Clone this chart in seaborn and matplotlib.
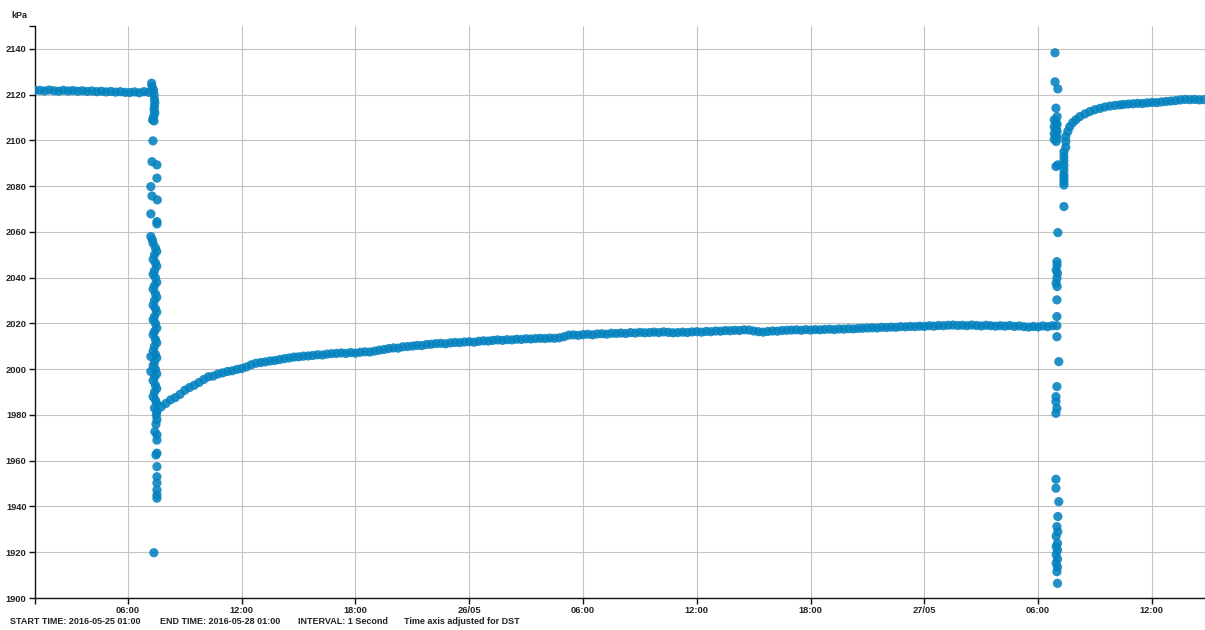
import numpy as np
import pandas as pd
import matplotlib
matplotlib.use("Agg")
import matplotlib.pyplot as plt
import matplotlib.dates as mdates
import seaborn as sns

# ---------------- data (hours since 2016-05-25 00:00, pressure in kPa) ----------------
# steady period before the first event (15-minute readings)
t_pre = np.arange(1.1, 7.2, 0.25)
p_pre = [2121.8, 2121.9, 2121.6, 2122.0, 2121.7, 2121.5, 2121.9, 2121.6, 2121.8, 2121.5,
         2121.7, 2121.4, 2121.6, 2121.3, 2121.5, 2121.2, 2121.4, 2121.1, 2121.3, 2121.0,
         2120.9, 2121.2, 2120.8, 2121.3, 2121.0]

# first transient (around 07:20 on 25/05)
t_ev1 = [7.25, 7.27, 7.35, 7.38, 7.40, 7.42, 7.40, 7.38, 7.42, 7.36, 7.30, 7.38,
         7.32, 7.27, 7.53, 7.53, 7.21, 7.27, 7.55, 7.21, 7.53, 7.53, 7.21, 7.29,
         7.33, 7.45, 7.52, 7.40, 7.33, 7.45, 7.52, 7.40, 7.33, 7.45, 7.52, 7.40,
         7.33, 7.45, 7.52, 7.40, 7.33, 7.45, 7.52, 7.40, 7.33, 7.45, 7.52, 7.40,
         7.33, 7.45, 7.52, 7.40, 7.33, 7.45, 7.52, 7.40, 7.33, 7.45, 7.52, 7.40,
         7.33, 7.45, 7.52, 7.40, 7.33, 7.45, 7.52, 7.40, 7.21, 7.21,
         7.53, 7.50, 7.53, 7.48, 7.42, 7.53, 7.53, 7.53, 7.48, 7.53, 7.53, 7.53,
         7.53, 7.53, 7.53, 7.37]
p_ev1 = [2125.0, 2123.5, 2122.0, 2120.0, 2118.0, 2116.5, 2115.0, 2113.5, 2112.0, 2110.5, 2109.0, 2108.5,
         2099.8, 2090.7, 2089.3, 2083.5, 2079.8, 2075.7, 2074.0, 2067.9, 2064.5, 2063.5, 2058.0, 2056.5,
         2055.0, 2053.0, 2051.5, 2050.0, 2048.0, 2046.5, 2045.0, 2043.0, 2041.5, 2040.0, 2038.0, 2036.5,
         2035.0, 2033.0, 2031.5, 2030.0, 2028.0, 2026.5, 2025.0, 2023.0, 2021.5, 2020.0, 2018.0, 2016.5,
         2015.0, 2013.0, 2011.5, 2010.0, 2008.0, 2006.5, 2005.0, 2003.0, 2001.5, 2000.0, 1998.0, 1996.5,
         1995.0, 1993.0, 1991.5, 1990.0, 1988.0, 1986.5, 1985.0, 1983.0, 2005.5, 1999.0,
         1981.5, 1980.0, 1978.0, 1976.0, 1972.7, 1971.3, 1969.0, 1963.3, 1962.5, 1957.4, 1953.0, 1950.3,
         1947.2, 1945.0, 1943.6, 1919.8]

# slow recovery after the first event (15-minute readings)
t_rec1 = np.arange(7.75, 54.8, 0.25)
p_rec1 = [1983.5,
          1985.0, 1986.6, 1987.6, 1989.0, 1990.8, 1992.0, 1993.0, 1994.2,
          1995.5, 1996.7, 1997.0, 1997.9, 1998.4, 1999.0, 1999.3, 1999.9,
          2000.3, 2001.0, 2001.9, 2002.6, 2002.9, 2003.2, 2003.6, 2003.8,
          2004.2, 2004.6, 2004.9, 2005.3, 2005.4, 2005.7, 2005.8, 2006.0,
          2006.3, 2006.2, 2006.6, 2006.8, 2006.9, 2007.1, 2006.9, 2007.3,
          2007.0, 2007.4, 2007.6, 2007.5, 2007.9, 2008.3, 2008.6, 2009.0,
          2009.3, 2009.2, 2009.8, 2009.9, 2010.1, 2010.4, 2010.3, 2010.8,
          2010.9, 2011.2, 2011.3, 2011.1, 2011.5, 2011.7, 2011.6, 2011.9,
          2012.0, 2011.8, 2012.2, 2012.4, 2012.3, 2012.6, 2012.8, 2012.6,
          2012.9, 2012.8, 2013.1, 2013.0, 2013.3, 2013.2, 2013.4, 2013.5,
          2013.4, 2013.6, 2013.5, 2013.7, 2014.2, 2014.9, 2015.0, 2014.8,
          2015.1, 2015.3, 2015.0, 2015.4, 2015.5, 2015.3, 2015.7, 2015.6,
          2015.8, 2015.6, 2016.0, 2015.8, 2016.1, 2015.9, 2016.0, 2016.2,
          2016.0, 2016.3, 2016.1, 2015.9, 2016.0, 2016.2, 2016.0, 2016.3,
          2016.4, 2016.2, 2016.5, 2016.4, 2016.7, 2016.6, 2016.9, 2016.8,
          2017.0, 2016.9, 2017.2, 2017.1, 2016.7, 2016.4, 2016.2, 2016.5,
          2016.7, 2016.6, 2016.9, 2017.0, 2017.1, 2017.2, 2017.0, 2017.3,
          2017.1, 2017.3, 2017.2, 2017.4, 2017.5, 2017.3, 2017.6, 2017.5,
          2017.7, 2017.6, 2017.8, 2017.9, 2018.0, 2018.1, 2018.0, 2018.3,
          2018.2, 2018.4, 2018.3, 2018.6, 2018.5, 2018.7, 2018.6, 2018.8,
          2018.7, 2019.0, 2018.8, 2019.1, 2019.0, 2019.2, 2019.3, 2019.1,
          2019.2, 2019.0, 2019.3, 2019.1, 2018.9, 2019.2, 2019.0, 2018.8,
          2019.0, 2018.8, 2019.1, 2018.7, 2018.9, 2018.6, 2018.4, 2018.7,
          2018.5, 2018.9, 2018.6, 2019.0]

# second transient (around 07:00 on 27/05)
t_ev2 = [54.89, 54.89, 55.04, 54.94, 55.00,
         54.85, 54.95, 55.00, 54.85, 54.95, 55.00, 54.85, 54.95, 55.00, 54.85, 54.95,
         54.94, 55.04, 55.36, 55.04,
         54.99, 55.00, 54.95, 55.02, 54.99, 54.95, 55.00,
         54.99, 54.99, 54.99, 54.99, 55.09, 54.99, 54.94, 54.94, 54.99, 54.94,
         54.94, 54.94, 55.09, 55.04,
         54.99, 55.04, 54.95, 55.02, 54.95, 55.02, 54.95, 55.02, 54.95, 55.02]
p_ev2 = [2138.3, 2125.6, 2122.5, 2114.1, 2110.4,
         2109.0, 2108.0, 2107.0, 2106.0, 2105.0, 2104.0, 2103.0, 2102.0, 2101.0, 2100.5, 2099.5,
         2088.6, 2089.3, 2071.1, 2059.7,
         2047.0, 2045.6, 2043.4, 2041.9, 2039.8, 2037.6, 2036.1,
         2030.3, 2023.0, 2019.0, 2014.2, 2003.3, 1992.4, 1988.0, 1985.8, 1982.9, 1980.7,
         1951.9, 1948.0, 1942.1, 1935.6,
         1931.2, 1929.0, 1927.0, 1923.9, 1922.5, 1921.0, 1919.0, 1917.0, 1915.2, 1913.5]
t_ev2_tail = [54.99, 55.02]
p_ev2_tail = [1911.5, 1906.4]

# fast recovery after the second event
t_rec2 = [55.36, 55.36, 55.36, 55.36, 55.36, 55.36, 55.36, 55.36, 55.36,
          55.46, 55.46, 55.46, 55.57, 55.67, 55.83, 55.99, 56.20, 56.47, 56.73,
          56.99, 57.26, 57.52, 57.78, 58.05, 58.31,
          58.50, 58.75, 59.00, 59.25, 59.50, 59.75, 60.00, 60.25, 60.50, 60.75,
          61.00, 61.25, 61.50, 61.75, 62.00, 62.25, 62.50, 62.75]
p_rec2 = [2080.5, 2082.0, 2083.5, 2085.0, 2087.0, 2089.0, 2091.0, 2093.0, 2095.0,
          2097.0, 2099.5, 2101.7, 2104.0, 2106.0, 2107.8, 2109.0, 2110.4, 2111.6, 2112.6,
          2113.4, 2114.0, 2114.6, 2115.0, 2115.3, 2115.5,
          2115.7, 2115.9, 2116.0, 2116.2, 2116.1, 2116.4, 2116.6, 2116.5, 2116.8, 2117.0,
          2117.2, 2117.4, 2117.7, 2117.9, 2117.8, 2117.9, 2117.7, 2117.8]

y_ticks = [1900, 1920, 1940, 1960, 1980, 2000, 2020, 2040, 2060, 2080, 2100, 2120, 2140]
footer_items = ["START TIME: 2016-05-25 01:00", "END TIME: 2016-05-28 01:00",
                "INTERVAL: 1 Second", "Time axis adjusted for DST"]
unit_label = "kPa"

# ---------------- build table ----------------
hours = np.concatenate([t_pre, t_ev1, t_rec1, t_ev2, t_ev2_tail, t_rec2])
vals = np.concatenate([p_pre, p_ev1, p_rec1, p_ev2, p_ev2_tail, p_rec2])
base = pd.Timestamp("2016-05-25 00:00")
df = pd.DataFrame({"time": base + pd.to_timedelta(hours, unit="h"), "kPa": vals})

# ---------------- plot ----------------
sns.set_style("white")
plt.rcParams["font.family"] = ["Liberation Sans", "DejaVu Sans"]
plt.rcParams["font.weight"] = "bold"

W, H = 1205, 630
fig = plt.figure(figsize=(W / 100, H / 100), dpi=100)
ax = fig.add_axes([35 / W, (H - 598) / H, (1205 - 35) / W, (598 - 26) / H])

sns.scatterplot(data=df, x="time", y="kPa", ax=ax, s=44, color="#0482bf",
                alpha=0.88, linewidth=0, edgecolor="none", legend=False, zorder=3)

x0 = base + pd.Timedelta(hours=1.1)
x1 = base + pd.Timedelta(hours=62.8)
ax.set_ylim(1900, 2150)
ax.set_xlim(x0, x1)
ax.set_yticks(y_ticks)
ax.set_yticks([2150], minor=True)
ax.set_xticks([mdates.date2num(x0)], minor=True)

ax.xaxis.set_major_locator(mdates.HourLocator(byhour=[0, 6, 12, 18]))

def fmt(x, pos=None):
    d = mdates.num2date(x)
    return d.strftime("%d/%m") if d.hour == 0 else d.strftime("%H:%M")

ax.xaxis.set_major_formatter(plt.FuncFormatter(fmt))
ax.set_xlabel("")
ax.set_ylabel("")

ax.grid(True, which="major", color="#c2c2c2", linewidth=0.8, zorder=0)
ax.grid(False, which="minor")
ax.set_axisbelow(True)
for s in ["top", "right"]:
    ax.spines[s].set_visible(False)
for s in ["left", "bottom"]:
    ax.spines[s].set_color("#111111")
    ax.spines[s].set_linewidth(1.0)

ax.tick_params(axis="both", which="both", direction="out", length=4.5, width=1.0,
               color="#111111", labelsize=6.7, labelcolor="#222222", pad=1.5,
               left=True, bottom=True)
ax.tick_params(axis="both", which="minor", labelleft=False, labelbottom=False)
for lab in ax.get_xticklabels() + ax.get_yticklabels():
    lab.set_fontweight("bold")

fig.text(11 / W, 1 - 15 / H, unit_label, fontsize=6.5, fontweight="bold",
         color="#222222", va="center", ha="left")

footer_x = [10, 160, 298, 404]
for xp, txt in zip(footer_x, footer_items):
    fig.text(xp / W, 1 - 621 / H, txt, fontsize=6.5, fontweight="bold",
             color="#222222", va="center", ha="left")

fig.savefig("out.png", dpi=100)
